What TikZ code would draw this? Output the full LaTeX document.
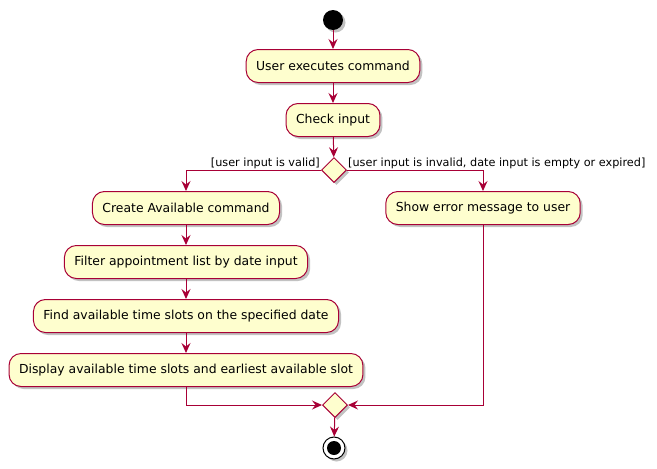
\documentclass[tikz,border=0pt]{standalone}
\usepackage{fontspec}
\setmainfont{DejaVu Sans}
\usetikzlibrary{shapes.geometric,shadows,arrows.meta}
\definecolor{umlred}{HTML}{A80036}
\definecolor{umlfill}{HTML}{FEFECE}
\begin{document}
\begin{tikzpicture}[>={Stealth[length=10pt, width=9pt, inset=3.5pt]}, x=1pt, y=-1pt,
        shade/.style={drop shadow={shadow xshift=2.5pt, shadow yshift=-2.5pt, fill=black!40, opacity=0.6}},
        act/.style={draw=umlred, fill=umlfill, line width=1pt, rounded corners=12pt, minimum height=33pt, inner xsep=10pt, font=\fontsize{12.4}{14}\selectfont, shade},
        choice/.style={diamond, draw=umlred, fill=umlfill, line width=1pt, minimum width=25pt, minimum height=25pt, inner sep=0pt, shade},
        flow/.style={->, draw=umlred, line width=1pt},
        guard/.style={font=\fontsize{11.25}{13}\selectfont, inner sep=1pt}]
        \useasboundingbox (0,0) rectangle (657,469);
        \node[circle, fill=black, minimum size=20pt, inner sep=0pt, shade] (start) at (333,20) {};
        \node[act] (exec) at (333,66) {User executes command};
        \node[act] (check) at (333,120) {Check input};
        \node[choice] (dec) at (334,170) {};
        \node[act] (create) at (186,208) {Create Available command};
        \node[act] (error) at (483,208) {Show error message to user};
        \node[act] (filter) at (186,262) {Filter appointment list by date input};
        \node[act] (find) at (186,316) {Find available time slots on the specified date};
        \node[act] (show) at (186,370) {Display available time slots and earliest available slot};
        \node[choice] (merge) at (335,405) {};
        \node[circle, draw=black, fill=white, line width=1pt, minimum size=22pt, inner sep=0pt, shade] (stop) at (334,448) {};
        \fill (stop) circle (7pt);
        % guards
        \node[guard, anchor=south east] at (dec.west) {[user input is valid]};
        \node[guard, anchor=south west] at (dec.east) {[user input is invalid, date input is empty or expired]};
        % flows
        \draw[flow] (start) -- (exec);
        \draw[flow] (exec) -- (check);
        \draw[flow] (check) -- (dec);
        \draw[flow] (dec.west) -| (create);
        \draw[flow] (dec.east) -| (error);
        \draw[flow] (create) -- (filter);
        \draw[flow] (filter) -- (find);
        \draw[flow] (find) -- (show);
        \draw[flow] (show) |- (merge.west);
        \draw[flow] (error) |- (merge.east);
        \draw[flow] (merge) -- (stop);
    \end{tikzpicture}
\end{document}
